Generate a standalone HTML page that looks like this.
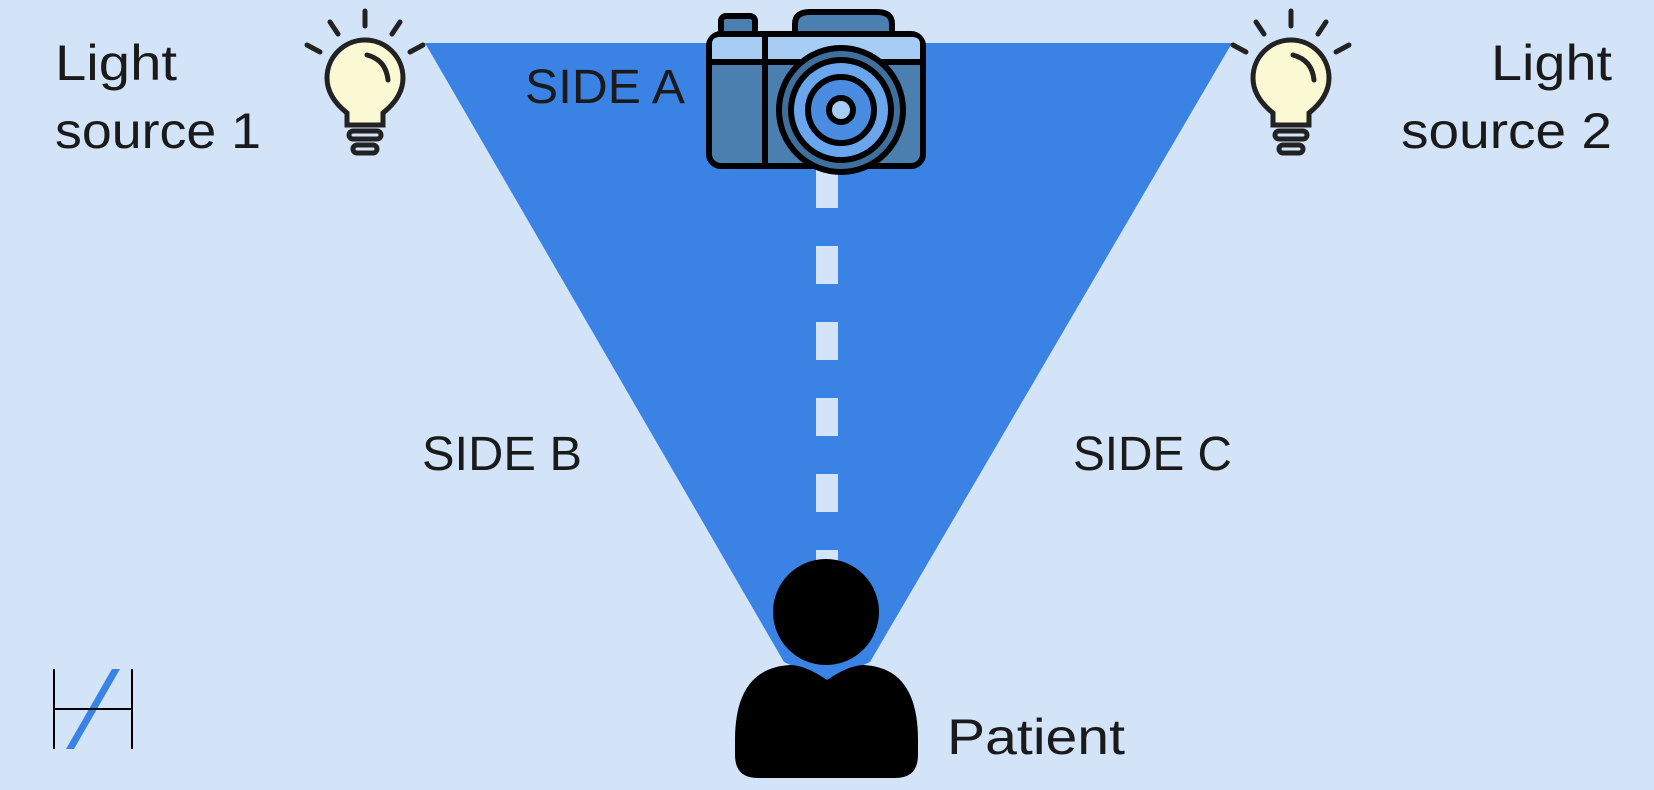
<!DOCTYPE html>
<html><head><meta charset="utf-8"><style>
html,body{margin:0;padding:0;background:#d3e4f9;}
svg{display:block}
text{font-family:"Liberation Sans",sans-serif;fill:#1a1a1a;}
</style></head><body>
<svg width="1654" height="790" viewBox="0 0 1654 790" xmlns="http://www.w3.org/2000/svg">
<rect width="1654" height="790" fill="#d3e4f9"/>
<polygon points="425,43 1232,43 870,662 827,682 784,662" fill="#3a82e4"/>
<line x1="827" y1="170" x2="827" y2="670" stroke="#d3e4f9" stroke-width="22" stroke-dasharray="38,38"/>
<path d="M735,740 Q735,668 790,665 Q805,665 827,680 Q849,665 864,665 Q918,668 918,740 L918,755 Q918,778 895,778 L758,778 Q735,778 735,755 Z" fill="#000"/>
<circle cx="826" cy="612" r="53" fill="#000"/>
<g stroke="#000" stroke-width="6" stroke-linejoin="round">
<rect x="721" y="16" width="34" height="22" rx="5" fill="#4a7fb0"/>
<path d="M795,36 L795,24 Q795,12 810,12 L877,12 Q892,12 892,24 L892,36 Z" fill="#4a7fb0"/>
<rect x="709" y="34" width="214" height="132" rx="12" fill="#4a7fb0"/>
<path d="M712,62 L920,62 L920,44 Q920,37 912,37 L720,37 Q712,37 712,44 Z" fill="#a8cdf5" stroke="none"/>
<line x1="709" y1="62" x2="923" y2="62"/>
<line x1="765" y1="36" x2="765" y2="164"/>
<circle cx="841" cy="110" r="62" fill="#3f6f9c"/>
<circle cx="841" cy="110" r="50" fill="#6aa6ee"/>
<circle cx="841" cy="110" r="33" fill="#4a8ce0"/>
<circle cx="841" cy="110" r="12" fill="#a8cdf5"/>
</g>
<g id="b1" stroke="#222" stroke-width="5" stroke-linecap="round" fill="none">
<line x1="365" y1="11" x2="365" y2="26"/>
<line x1="330" y1="22" x2="338" y2="34"/>
<line x1="400" y1="22" x2="392" y2="34"/>
<line x1="307" y1="45" x2="320" y2="52"/>
<line x1="423" y1="45" x2="410" y2="52"/>
<path d="M347,125 L347,113 Q327,97 327,78 A38,38 0 1 1 403,78 Q403,97 383,113 L383,125 Z" fill="#fbf9d4"/>
<path d="M367,55 Q386,60 388,80" />
<rect x="349" y="131" width="32" height="8" rx="4"/>
<rect x="353" y="145" width="24" height="8" rx="4"/>
</g>
<use href="#b1" x="926"/>
<text x="55" y="80" font-size="50" textLength="122" lengthAdjust="spacingAndGlyphs">Light</text>
<text x="55" y="148" font-size="50" textLength="206" lengthAdjust="spacingAndGlyphs">source 1</text>
<text x="1491" y="80" font-size="50" textLength="121" lengthAdjust="spacingAndGlyphs">Light</text>
<text x="1401" y="148" font-size="50" textLength="211" lengthAdjust="spacingAndGlyphs">source 2</text>
<text x="525" y="103" font-size="48" textLength="160" lengthAdjust="spacingAndGlyphs">SIDE A</text>
<text x="422" y="470" font-size="48" textLength="160" lengthAdjust="spacingAndGlyphs">SIDE B</text>
<text x="1073" y="470" font-size="48" textLength="159" lengthAdjust="spacingAndGlyphs">SIDE C</text>
<text x="947" y="754" font-size="50" textLength="178" lengthAdjust="spacingAndGlyphs">Patient</text>
<polygon points="112,669 120,669 74,749 66,749" fill="#3a82e4"/>
<g stroke="#000" stroke-width="2"><line x1="54" y1="669" x2="54" y2="749"/><line x1="132" y1="669" x2="132" y2="749"/><line x1="54" y1="709" x2="132" y2="709"/></g>
</svg>
</body></html>
